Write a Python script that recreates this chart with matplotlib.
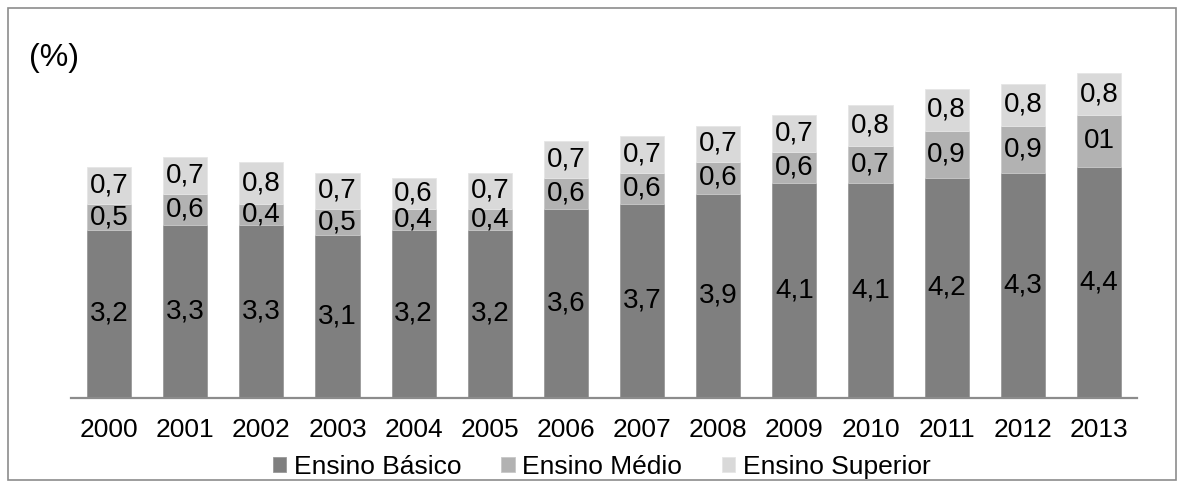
import matplotlib
matplotlib.use("Agg")
import matplotlib.pyplot as plt
from matplotlib.patches import Rectangle

plt.rcParams['font.family'] = ['Liberation Sans', 'DejaVu Sans']

years = ['2000', '2001', '2002', '2003', '2004', '2005', '2006',
         '2007', '2008', '2009', '2010', '2011', '2012', '2013']
basico = [3.2, 3.3, 3.3, 3.1, 3.2, 3.2, 3.6, 3.7, 3.9, 4.1, 4.1, 4.2, 4.3, 4.4]
medio = [0.5, 0.6, 0.4, 0.5, 0.4, 0.4, 0.6, 0.6, 0.6, 0.6, 0.7, 0.9, 0.9, 1.0]
superior = [0.7, 0.7, 0.8, 0.7, 0.6, 0.7, 0.7, 0.7, 0.7, 0.7, 0.8, 0.8, 0.8, 0.8]
medio_labels = ['0,5', '0,6', '0,4', '0,5', '0,4', '0,4', '0,6',
                '0,6', '0,6', '0,6', '0,7', '0,9', '0,9', '01']
series_names = ['Ensino Básico', 'Ensino Médio', 'Ensino Superior']
colors = ['#7f7f7f', '#b2b2b2', '#d9d9d9']

W, H = 1184, 488
fig = plt.figure(figsize=(W / 100, H / 100), dpi=100)

# axes placement (pixels)
x0, x1 = 71, 1137
ybase, ytop = 397.5, 30
ax = fig.add_axes([x0 / W, (H - ybase) / H, (x1 - x0) / W, (ybase - ytop) / H])

x = list(range(len(years)))
bw = 0.578
bottom2 = [b for b in basico]
bottom3 = [b + m for b, m in zip(basico, medio)]
b1 = ax.bar(x, basico, bw, color=colors[0], edgecolor='#9a9a9a', linewidth=0.6, label=series_names[0])
b2 = ax.bar(x, medio, bw, bottom=bottom2, color=colors[1], edgecolor='#c8c8c8', linewidth=0.6, label=series_names[1])
b3 = ax.bar(x, superior, bw, bottom=bottom3, color=colors[2], edgecolor='#e6e6e6', linewidth=0.6, label=series_names[2])

fmt = lambda v: f"{v:.1f}".replace('.', ',')
lab_fs = 20
ax.bar_label(b1, labels=[fmt(v) for v in basico], label_type='center', fontsize=lab_fs, color='black')
ax.bar_label(b2, labels=medio_labels, label_type='center', fontsize=lab_fs, color='black')
ax.bar_label(b3, labels=[fmt(v) for v in superior], label_type='center', fontsize=lab_fs, color='black')

ax.set_xlim(-0.5, len(years) - 0.5)
ax.set_ylim(0, (ybase - ytop) / 52.3)
ax.set_xticks(x)
ax.set_xticklabels(years, fontsize=19)
ax.tick_params(axis='x', length=0, pad=15)
ax.set_yticks([])
for s in ['top', 'right', 'left']:
    ax.spines[s].set_visible(False)
ax.spines['bottom'].set_color('#8c8c8c')
ax.spines['bottom'].set_linewidth(1.6)

fig.text(29 / W, 1 - 58 / H, '(%)', fontsize=23, va='center', ha='left')

fig.legend(handles=[b1, b2, b3], labels=series_names, loc='center',
           bbox_to_anchor=(602 / W, 1 - 467 / H), ncol=3, frameon=False,
           fontsize=19, handlelength=0.5, handleheight=0.5, handletextpad=0.3,
           columnspacing=1.5, borderpad=0, borderaxespad=0)

fig.patches.append(Rectangle((8 / W, 8 / H), (W - 16) / W, (H - 16) / H,
                             transform=fig.transFigure, fill=False,
                             edgecolor='#8c8c8c', linewidth=1.2))

fig.savefig('out.png', dpi=100)
